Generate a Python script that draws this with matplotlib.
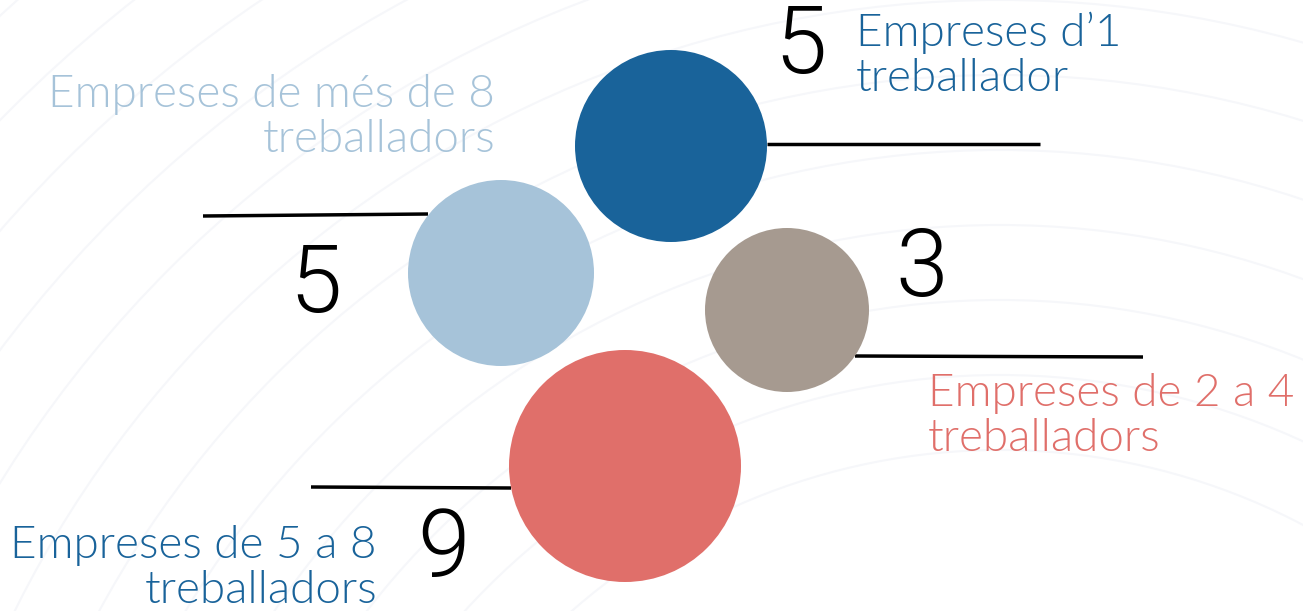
import numpy as np
import matplotlib
matplotlib.use('Agg')
import matplotlib.pyplot as plt
import matplotlib.patches as mpatches

plt.rcParams['font.family'] = ['Lato', 'DejaVu Sans']

categories = ["Empreses d\u20191\ntreballador",
              "Empreses de m\u00e9s de 8\ntreballadors",
              "Empreses de 2 a 4\ntreballadors",
              "Empreses de 5 a 8\ntreballadors"]
values = [5, 5, 3, 9]
colors = ['#19639a', '#a6c3d9', '#a69a90', '#e06f6a']
label_colors = ['#19639a', '#a6c3d9', '#e06f6a', '#19639a']

# layout in pixels (x, y from top-left)
centers = [(671, 146), (501, 273), (787, 310), (625, 466)]
radii = [96, 93, 82, 116]
leaders = [((767, 144), (1040, 144)), ((203, 216), (428, 214)),
           ((855, 356), (1143, 357)), ((311, 487), (511, 488))]
num_pos = [(800, 47), (315, 286), (922, 270), (443, 550)]
lab_pos = [(856, 55, 'left'), (495, 117, 'right'),
           (928, 416, 'left'), (377, 568, 'right')]

fig = plt.figure(figsize=(13.03, 6.11), dpi=100)
ax = fig.add_axes([0, 0, 1, 1])
ax.set_xlim(0, 1303)
ax.set_ylim(611, 0)
ax.set_aspect('equal')
ax.axis('off')

# faint background rings
for r in np.arange(650, 1500, 75):
    ax.add_patch(mpatches.Circle((1000, 1100), r, fill=False,
                 edgecolor='#f6f7fa', linewidth=1.5, zorder=0))

for i in range(len(values)):
    ax.add_patch(mpatches.Circle(centers[i], radii[i], color=colors[i],
                 zorder=2, linewidth=0))
    (x0, y0), (x1, y1) = leaders[i]
    ax.plot([x0, x1], [y0, y1], color='black', linewidth=2.5, zorder=1,
            solid_capstyle='butt')
    ax.text(num_pos[i][0], num_pos[i][1], str(values[i]), fontsize=68,
            family=['Roboto', 'DejaVu Sans'], fontweight=300,
            ha='center', va='center', color='black')
    lx, ly, ha = lab_pos[i]
    ax.text(lx, ly, categories[i], fontsize=33, fontweight=300,
            ha=ha, va='center', color=label_colors[i], linespacing=1.12,
            multialignment=ha)

fig.savefig('out.png', dpi=100)
